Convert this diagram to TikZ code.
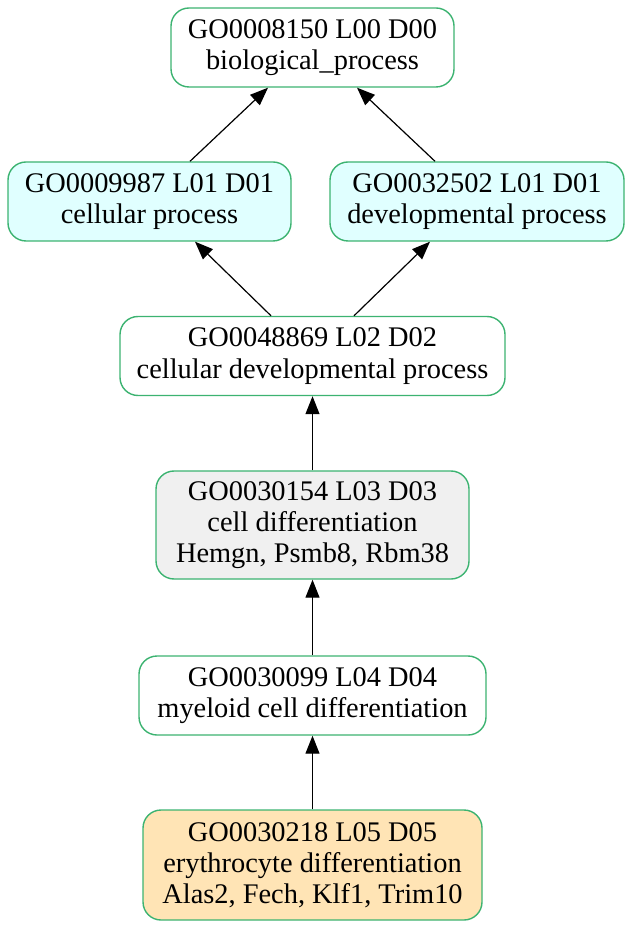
\documentclass[tikz,border=0pt]{standalone}
\usepackage{fontspec}
\setmainfont{Liberation Serif}
\usetikzlibrary{arrows.meta,calc}

\definecolor{goborder}{HTML}{3CB371}
\definecolor{gocyan}{HTML}{E0FFFF}
\definecolor{gogray}{HTML}{F0F0F0}
\definecolor{gomocc}{HTML}{FFE4B5}

\tikzset{goterm/.style = {draw = goborder, line width = 0.7pt, rounded corners = 9pt,
                          align = center, inner sep = 0pt, fill = #1,
                          font = \fontsize{14.2}{15.6}\selectfont,
                          minimum height = 39.5pt},
         goterm/.default = white,
         goedge/.style = {-{Triangle[length=9pt, width=7pt]}, line width = 0.6pt}
        }

\begin{document}
\begin{tikzpicture}[x=0.5pt, y=-0.5pt]
  \useasboundingbox (0,0) rectangle (632,929);
  % terms, top to bottom
  \node[goterm, minimum width=141.5pt] (bp) at (312.5,47.5) {GO0008150 L00 D00\\biological\_process};
  \node[goterm=gocyan, minimum width=141.5pt] (cp) at (149.5,201.5) {GO0009987 L01 D01\\cellular process};
  \node[goterm=gocyan, minimum width=147pt] (dp) at (477,201.5) {GO0032502 L01 D01\\developmental process};
  \node[goterm, minimum width=192.5pt] (cdp) at (312.5,356) {GO0048869 L02 D02\\cellular developmental process};
  \node[goterm=gogray, minimum width=156.5pt, minimum height=54pt] (cd) at (312.5,525) {GO0030154 L03 D03\\cell differentiation\\Hemgn, Psmb8, Rbm38};
  \node[goterm, minimum width=173.5pt] (mcd) at (312.5,695.5) {GO0030099 L04 D04\\myeloid cell differentiation};
  \node[goterm=gomocc, minimum width=169.5pt, minimum height=55pt] (ed) at (312.5,865) {GO0030218 L05 D05\\erythrocyte differentiation\\Alas2, Fech, Klf1, Trim10};
  % is_a edges
  \draw[goedge] ($(cp.north)+(40.5,0)$) -- ($(bp.south)+(-44.5,0)$);
  \draw[goedge] ($(dp.north)+(-42,0)$) -- ($(bp.south)+(44.5,0)$);
  \draw[goedge] ($(cdp.north)+(-41.5,0)$) -- ($(cp.south)+(45.5,0)$);
  \draw[goedge] ($(cdp.north)+(41.5,0)$) -- ($(dp.south)+(-47,0)$);
  \draw[goedge] (cd) -- (cdp);
  \draw[goedge] (mcd) -- (cd);
  \draw[goedge] (ed) -- (mcd);
\end{tikzpicture}
\end{document}
